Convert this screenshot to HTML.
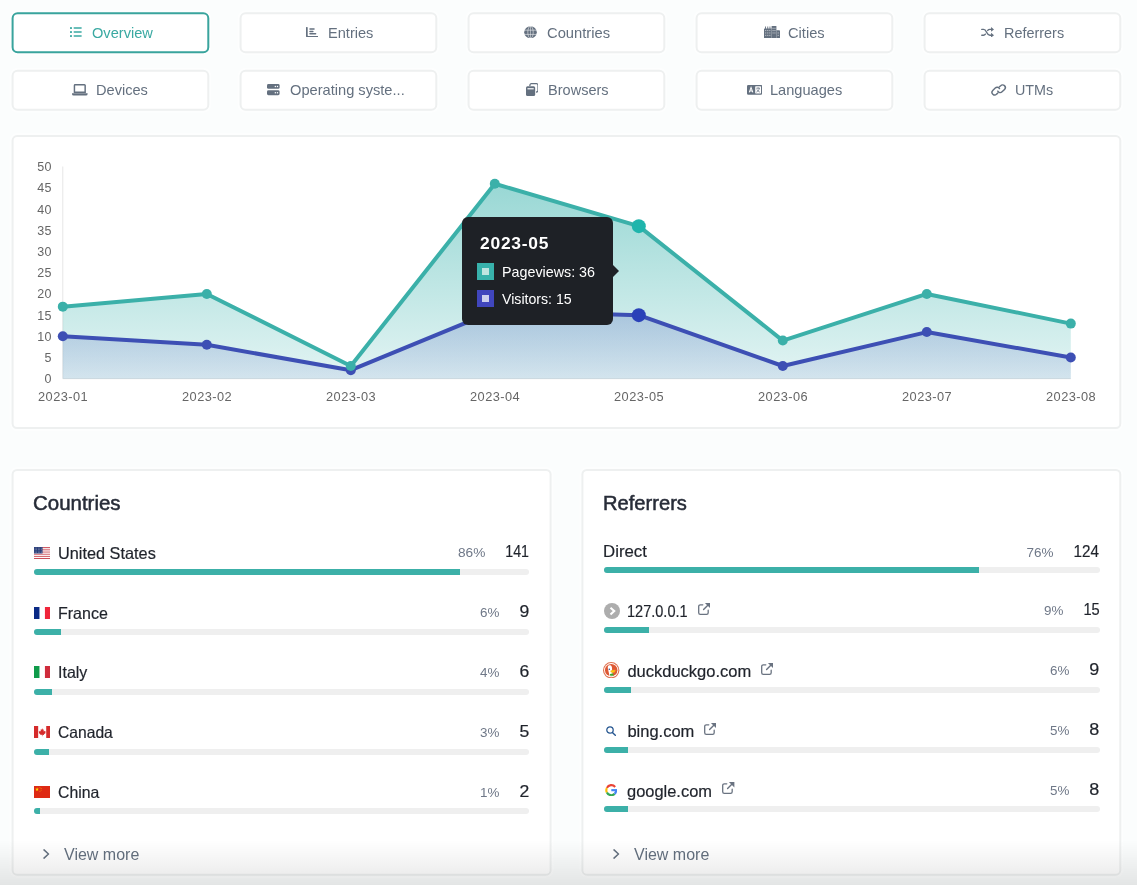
<!DOCTYPE html>
<html lang="en">
<head>
<meta charset="utf-8">
<title>Statistics</title>
<style>
*{box-sizing:border-box;margin:0;padding:0}
html,body{width:1137px;height:885px;overflow:hidden}
body{background:#fbfdfd;font-family:"Liberation Sans",sans-serif;color:#262b35;position:relative}
.abs{position:absolute}
.t{white-space:nowrap;display:block}
.ax{font-size:12.5px;fill:#666;font-family:"Liberation Sans",sans-serif;letter-spacing:.35px}
.axx{font-size:12.8px;letter-spacing:.45px}
#wrap{position:absolute;left:0;top:0;width:1137px;height:885px;will-change:transform}
#fade{position:absolute;left:0;top:840px;width:1137px;height:45px;background:linear-gradient(to bottom,rgba(0,0,0,0),rgba(0,0,0,.03) 35%,rgba(0,0,0,.095))}
</style>
</head>
<body>
<div id="wrap">
<!-- card / button outlines -->
<svg class="abs" style="left:0;top:0" width="1137" height="885" viewBox="0 0 1137 885">
<rect x="10.60" y="11.20" width="199.70" height="43.00" rx="7" fill="none" stroke="#fff" stroke-opacity=".5" stroke-width="2"/>
<rect x="12.60" y="13.20" width="195.70" height="39.00" rx="5" fill="#fff" stroke="#39a49d" stroke-width="2"/>
<rect x="10.60" y="68.85" width="199.70" height="43.00" rx="7" fill="none" stroke="#fff" stroke-opacity=".5" stroke-width="2"/>
<rect x="12.60" y="70.85" width="195.70" height="39.00" rx="5" fill="#fff" stroke="#eef0f0" stroke-width="2"/>
<rect x="238.60" y="11.20" width="199.70" height="43.00" rx="7" fill="none" stroke="#fff" stroke-opacity=".5" stroke-width="2"/>
<rect x="240.60" y="13.20" width="195.70" height="39.00" rx="5" fill="#fff" stroke="#eef0f0" stroke-width="2"/>
<rect x="238.60" y="68.85" width="199.70" height="43.00" rx="7" fill="none" stroke="#fff" stroke-opacity=".5" stroke-width="2"/>
<rect x="240.60" y="70.85" width="195.70" height="39.00" rx="5" fill="#fff" stroke="#eef0f0" stroke-width="2"/>
<rect x="466.60" y="11.20" width="199.70" height="43.00" rx="7" fill="none" stroke="#fff" stroke-opacity=".5" stroke-width="2"/>
<rect x="468.60" y="13.20" width="195.70" height="39.00" rx="5" fill="#fff" stroke="#eef0f0" stroke-width="2"/>
<rect x="466.60" y="68.85" width="199.70" height="43.00" rx="7" fill="none" stroke="#fff" stroke-opacity=".5" stroke-width="2"/>
<rect x="468.60" y="70.85" width="195.70" height="39.00" rx="5" fill="#fff" stroke="#eef0f0" stroke-width="2"/>
<rect x="694.60" y="11.20" width="199.70" height="43.00" rx="7" fill="none" stroke="#fff" stroke-opacity=".5" stroke-width="2"/>
<rect x="696.60" y="13.20" width="195.70" height="39.00" rx="5" fill="#fff" stroke="#eef0f0" stroke-width="2"/>
<rect x="694.60" y="68.85" width="199.70" height="43.00" rx="7" fill="none" stroke="#fff" stroke-opacity=".5" stroke-width="2"/>
<rect x="696.60" y="70.85" width="195.70" height="39.00" rx="5" fill="#fff" stroke="#eef0f0" stroke-width="2"/>
<rect x="922.60" y="11.20" width="199.70" height="43.00" rx="7" fill="none" stroke="#fff" stroke-opacity=".5" stroke-width="2"/>
<rect x="924.60" y="13.20" width="195.70" height="39.00" rx="5" fill="#fff" stroke="#eef0f0" stroke-width="2"/>
<rect x="922.60" y="68.85" width="199.70" height="43.00" rx="7" fill="none" stroke="#fff" stroke-opacity=".5" stroke-width="2"/>
<rect x="924.60" y="70.85" width="195.70" height="39.00" rx="5" fill="#fff" stroke="#eef0f0" stroke-width="2"/>
<rect x="10.60" y="134.10" width="1111.70" height="296.00" rx="6.5" fill="none" stroke="#fff" stroke-opacity=".5" stroke-width="2"/>
<rect x="12.60" y="136.10" width="1107.70" height="292.00" rx="4.5" fill="#fff" stroke="#eef0f0" stroke-width="2"/>
<rect x="10.60" y="467.90" width="542.00" height="408.80" rx="6.5" fill="none" stroke="#fff" stroke-opacity=".5" stroke-width="2"/>
<rect x="12.60" y="469.90" width="538.00" height="404.80" rx="4.5" fill="#fff" stroke="#eef0f0" stroke-width="2"/>
<rect x="580.40" y="467.90" width="541.90" height="408.80" rx="6.5" fill="none" stroke="#fff" stroke-opacity=".5" stroke-width="2"/>
<rect x="582.40" y="469.90" width="537.90" height="404.80" rx="4.5" fill="#fff" stroke="#eef0f0" stroke-width="2"/>
</svg>
<!-- navigation -->
<svg class="abs" preserveAspectRatio="none" style="left:70.0px;top:27.2px;width:11.8px;height:10.0px" width="12" height="10" viewBox="0 0 12 10" ><g fill="#3aa9a2"><rect x="0" y="0" width="2" height="2" rx=".4"/><rect x="0" y="4" width="2" height="2" rx=".4"/><rect x="0" y="8" width="2" height="2" rx=".4"/><rect x="3.6" y=".35" width="8.4" height="1.3" rx=".65"/><rect x="3.6" y="4.35" width="8.4" height="1.3" rx=".65"/><rect x="3.6" y="8.35" width="8.4" height="1.3" rx=".65"/></g></svg>
<span class="abs t" style="left:92.00px;top:26.00px;font-size:14.5px;line-height:14.5px;color:#3aa9a2;transform:scaleX(1.0078);transform-origin:left center">Overview</span>
<svg class="abs" preserveAspectRatio="none" style="left:305.7px;top:26.9px;width:12.3px;height:10.6px" width="12.5" height="10.5" viewBox="0 0 12.5 10.5" ><g fill="#64707f"><path d="M0 .8a.8.8 0 0 1 1.700 0V8.500a.4.4 0 0 0 .4.4H11.700a.8.8 0 0 1 0 1.600H1.700A1.700 1.700 0 0 1 0 8.800Z"/><rect x="3.3" y="1.3" width="5.6" height="1.5" rx=".7"/><rect x="3.3" y="3.6" width="4.4" height="1.5" rx=".7"/><rect x="3.3" y="5.9" width="7.2" height="1.5" rx=".7"/></g></svg>
<span class="abs t" style="left:327.60px;top:26.00px;font-size:14.5px;line-height:14.5px;color:#64707f;transform:scaleX(1.0061);transform-origin:left center">Entries</span>
<svg class="abs" preserveAspectRatio="none" style="left:523.9px;top:25.9px;width:13.0px;height:12.6px" width="13" height="13" viewBox="0 0 13 13" ><circle cx="6.5" cy="6.5" r="6.3" fill="#64707f"/><g stroke="#fff" stroke-width=".6" fill="none" opacity=".9"><ellipse cx="6.5" cy="6.5" rx="2.700" ry="6.3"/><path d="M0 4.300H13M0 8.700H13"/><path d="M6.500 0V13" stroke-width=".5"/></g></svg>
<span class="abs t" style="left:546.90px;top:26.00px;font-size:14.5px;line-height:14.5px;color:#64707f;transform:scaleX(1.0169);transform-origin:left center">Countries</span>
<svg class="abs" preserveAspectRatio="none" style="left:764.1px;top:25.9px;width:16.0px;height:12.2px" width="16" height="12.5" viewBox="0 0 16 12.5" ><g fill="#64707f"><path d="M.5 2.500H1.100V.4H2V2.500H3.300V.4H4.200V2.500H5.500V.4H6.400V2.500H7.600V12.500H.5A.5.5 0 0 1 0 12V3A.5.5 0 0 1 .5 2.500Z"/><path d="M7.600.5A.5.5 0 0 1 8.100 0H11.900A.5.5 0 0 1 12.400.5V12.500H7.600Z"/><path d="M12.400 4.400H15.500A.5.5 0 0 1 16 4.900V12A.5.5 0 0 1 15.500 12.500H12.400Z"/></g><g fill="#fff" opacity=".85"><rect x="1.300" y="4.300" width=".9" height=".9"/><rect x="3.350" y="4.300" width=".9" height=".9"/><rect x="5.400" y="4.300" width=".9" height=".9"/><rect x="1.300" y="6.700" width=".9" height=".9"/><rect x="3.350" y="6.700" width=".9" height=".9"/><rect x="5.400" y="6.700" width=".9" height=".9"/><rect x="1.300" y="9.100" width=".9" height=".9"/><rect x="3.350" y="9.100" width=".9" height=".9"/><rect x="5.400" y="9.100" width=".9" height=".9"/><rect x="8.600" y="1.900" width=".9" height=".9"/><rect x="10.500" y="1.900" width=".9" height=".9"/><rect x="8.600" y="4.300" width=".9" height=".9"/><rect x="10.500" y="4.300" width=".9" height=".9"/><rect x="8.600" y="6.700" width=".9" height=".9"/><rect x="10.500" y="6.700" width=".9" height=".9"/><rect x="13.700" y="6.700" width=".9" height=".9"/><rect x="13.700" y="9.100" width=".9" height=".9"/></g></svg>
<span class="abs t" style="left:788.00px;top:26.00px;font-size:14.5px;line-height:14.5px;color:#64707f;transform:scaleX(1.0122);transform-origin:left center">Cities</span>
<svg class="abs" preserveAspectRatio="none" style="left:981.3px;top:26.9px;width:13.2px;height:10.6px" width="13.5" height="11" viewBox="0 0 13.5 11" ><g fill="none" stroke="#64707f" stroke-width="1.45" stroke-linecap="round"><path d="M.8 2.500H2.600C4.200 2.500 4.800 3.500 5.700 5.500S7.600 8.500 9 8.500H11"/><path d="M.8 8.500H2.600C3.500 8.500 4 8.100 4.500 7.400M6.900 3.600C7.400 2.900 8 2.500 9 2.500H11"/></g><g fill="#64707f"><path d="M10.300 0 13.300 2.500 10.300 5Z"/><path d="M10.300 6 13.300 8.500 10.300 11Z"/></g></svg>
<span class="abs t" style="left:1004.20px;top:26.00px;font-size:14.5px;line-height:14.5px;color:#64707f;transform:scaleX(0.9946);transform-origin:left center">Referrers</span>
<svg class="abs" preserveAspectRatio="none" style="left:72.4px;top:84.1px;width:15.6px;height:11.6px" width="16" height="12" viewBox="0 0 16 12" ><path d="M3.200.75H12.800a.7.7 0 0 1 .7.7V8.500H2.500V1.450a.7.7 0 0 1 .7-.7Z" fill="none" stroke="#64707f" stroke-width="1.5"/><path d="M0 9.600H16V10.300A1.700 1.700 0 0 1 14.300 12H1.700A1.700 1.700 0 0 1 0 10.300Z" fill="#64707f"/></svg>
<span class="abs t" style="left:96.30px;top:83.00px;font-size:14.5px;line-height:14.5px;color:#64707f;transform:scaleX(1.0064);transform-origin:left center">Devices</span>
<svg class="abs" preserveAspectRatio="none" style="left:267.0px;top:84.4px;width:12.6px;height:11.2px" width="13" height="11.5" viewBox="0 0 13 11.5" ><g fill="#64707f"><rect x="0" y="0" width="13" height="5" rx="1.500"/><rect x="0" y="6.500" width="13" height="5" rx="1.500"/></g><g fill="#fff"><circle cx="8.600" cy="2.500" r=".75"/><circle cx="10.800" cy="2.500" r=".75"/><circle cx="8.600" cy="9" r=".75"/><circle cx="10.800" cy="9" r=".75"/></g></svg>
<span class="abs t" style="left:289.80px;top:83.00px;font-size:14.5px;line-height:14.5px;color:#64707f;transform:scaleX(1.0094);transform-origin:left center">Operating syste...</span>
<svg class="abs" preserveAspectRatio="none" style="left:525.8px;top:83.1px;width:12.7px;height:13.0px" width="13" height="13" viewBox="0 0 13 13" ><path d="M4 2.900V2.200A1.500 1.500 0 0 1 5.500.7H10.800A1.500 1.500 0 0 1 12.300 2.200V7.500A1.500 1.500 0 0 1 10.800 9H10.300" fill="none" stroke="#64707f" stroke-width="1.300"/><rect x="0" y="3.300" width="9.400" height="9.700" rx="1.500" fill="#64707f"/><rect x="1.500" y="5.100" width="6.400" height="1.300" fill="#fff" opacity=".9"/></svg>
<span class="abs t" style="left:548.10px;top:83.00px;font-size:14.5px;line-height:14.5px;color:#64707f">Browsers</span>
<svg class="abs" preserveAspectRatio="none" style="left:746.6px;top:85.0px;width:15.3px;height:9.7px" width="15.5" height="10" viewBox="0 0 15.5 10" ><rect x="0" y="0" width="15.500" height="10" rx="1.300" fill="#64707f"/><rect x="8.300" y="1.300" width="5.900" height="7.400" rx=".5" fill="#fff"/><path d="M2.300 7.600 4.100 2.500 5.900 7.600M2.900 6.100H5.300" fill="none" stroke="#fff" stroke-width="1.050"/><path d="M9.400 3.300H13.100M11.250 2.400V3.300M12.500 3.300C12.300 5.200 11 6.700 9.500 7.400M10.100 4.600C10.600 5.800 11.800 6.900 13 7.400" fill="none" stroke="#64707f" stroke-width=".8"/></svg>
<span class="abs t" style="left:770.20px;top:83.00px;font-size:14.5px;line-height:14.5px;color:#64707f;transform:scaleX(1.0062);transform-origin:left center">Languages</span>
<svg class="abs" preserveAspectRatio="none" style="left:991.4px;top:83.9px;width:15.3px;height:11.8px" width="15.5" height="12" viewBox="0 0 15.5 12" ><g fill="none" stroke="#64707f" stroke-width="1.450" stroke-linecap="round"><path d="M6.900 9.200 5.700 10.300A2.700 2.700 0 0 1 1.800 6.500L4.300 4A2.700 2.700 0 0 1 8.600 4.700"/><path d="M8.600 2.800 9.800 1.700A2.700 2.700 0 0 1 13.700 5.500L11.200 8A2.700 2.700 0 0 1 6.900 7.300"/></g></svg>
<span class="abs t" style="left:1015.20px;top:83.00px;font-size:14.5px;line-height:14.5px;color:#64707f;transform:scaleX(0.9882);transform-origin:left center">UTMs</span>
<!-- chart -->
<svg class="abs" style="left:0;top:0" width="1137" height="885" viewBox="0 0 1137 885">
<defs><linearGradient id="gp" gradientUnits="userSpaceOnUse" x1="0" y1="150" x2="0" y2="395"><stop offset="0" stop-color="#38b2ac" stop-opacity=".58"/><stop offset="1" stop-color="#38b2ac" stop-opacity=".11"/></linearGradient><linearGradient id="gv" gradientUnits="userSpaceOnUse" x1="0" y1="150" x2="0" y2="395"><stop offset="0" stop-color="#4050b8" stop-opacity=".6"/><stop offset="1" stop-color="#4050b8" stop-opacity=".06"/></linearGradient></defs>
<path d="M62.8 166.5V378.7H1070.8" fill="none" stroke="#e6e6e6" stroke-width="1"/>
<text class="ax" x="51.8" y="383.10" text-anchor="end">0</text>
<text class="ax" x="51.8" y="361.91" text-anchor="end">5</text>
<text class="ax" x="51.8" y="340.72" text-anchor="end">10</text>
<text class="ax" x="51.8" y="319.53" text-anchor="end">15</text>
<text class="ax" x="51.8" y="298.34" text-anchor="end">20</text>
<text class="ax" x="51.8" y="277.15" text-anchor="end">25</text>
<text class="ax" x="51.8" y="255.96" text-anchor="end">30</text>
<text class="ax" x="51.8" y="234.77" text-anchor="end">35</text>
<text class="ax" x="51.8" y="213.58" text-anchor="end">40</text>
<text class="ax" x="51.8" y="192.39" text-anchor="end">45</text>
<text class="ax" x="51.8" y="171.20" text-anchor="end">50</text>
<text class="ax axx" x="63.10" y="401" text-anchor="middle">2023-01</text>
<text class="ax axx" x="207.10" y="401" text-anchor="middle">2023-02</text>
<text class="ax axx" x="351.10" y="401" text-anchor="middle">2023-03</text>
<text class="ax axx" x="495.10" y="401" text-anchor="middle">2023-04</text>
<text class="ax axx" x="639.10" y="401" text-anchor="middle">2023-05</text>
<text class="ax axx" x="783.10" y="401" text-anchor="middle">2023-06</text>
<text class="ax axx" x="927.10" y="401" text-anchor="middle">2023-07</text>
<text class="ax axx" x="1071.10" y="401" text-anchor="middle">2023-08</text>
<polygon points="62.80,378.7 62.80,306.65 206.80,293.94 350.80,365.99 494.80,183.75 638.80,226.13 782.80,340.56 926.80,293.94 1070.80,323.61 1070.80,378.7" fill="url(#gp)"/>
<polygon points="62.80,378.7 62.80,336.32 206.80,344.80 350.80,370.22 494.80,310.89 638.80,315.13 782.80,365.99 926.80,332.08 1070.80,357.51 1070.80,378.7" fill="url(#gv)"/>
<polyline points="62.80,336.32 206.80,344.80 350.80,370.22 494.80,310.89 638.80,315.13 782.80,365.99 926.80,332.08 1070.80,357.51" fill="none" stroke="#3d4fb4" stroke-width="4" stroke-linejoin="round" stroke-linecap="round"/>
<circle cx="62.80" cy="336.32" r="5" fill="#3d4fb4"/>
<circle cx="206.80" cy="344.80" r="5" fill="#3d4fb4"/>
<circle cx="350.80" cy="370.22" r="5" fill="#3d4fb4"/>
<circle cx="494.80" cy="310.89" r="5" fill="#3d4fb4"/>
<circle cx="638.80" cy="315.13" r="7" fill="#2a41b8"/>
<circle cx="782.80" cy="365.99" r="5" fill="#3d4fb4"/>
<circle cx="926.80" cy="332.08" r="5" fill="#3d4fb4"/>
<circle cx="1070.80" cy="357.51" r="5" fill="#3d4fb4"/>
<polyline points="62.80,306.65 206.80,293.94 350.80,365.99 494.80,183.75 638.80,226.13 782.80,340.56 926.80,293.94 1070.80,323.61" fill="none" stroke="#3bb0a9" stroke-width="4" stroke-linejoin="round" stroke-linecap="round"/>
<circle cx="62.80" cy="306.65" r="5" fill="#3bb0a9"/>
<circle cx="206.80" cy="293.94" r="5" fill="#3bb0a9"/>
<circle cx="350.80" cy="365.99" r="5" fill="#3bb0a9"/>
<circle cx="494.80" cy="183.75" r="5" fill="#3bb0a9"/>
<circle cx="638.80" cy="226.13" r="7" fill="#1fb5ac"/>
<circle cx="782.80" cy="340.56" r="5" fill="#3bb0a9"/>
<circle cx="926.80" cy="293.94" r="5" fill="#3bb0a9"/>
<circle cx="1070.80" cy="323.61" r="5" fill="#3bb0a9"/>
</svg>
<div class="abs" id="tt" style="left:462px;top:216.5px;width:151px;height:108px;background:#1e2126;border-radius:6px"></div><div class="abs" style="left:613px;top:264.500px;width:0;height:0;border-left:6px solid #1e2126;border-top:6px solid transparent;border-bottom:6px solid transparent"></div><span class="abs t" style="left:479.70px;top:236.00px;font-size:16px;line-height:16px;color:#fff;transform:scaleX(1.0878);transform-origin:left center;font-weight:bold;letter-spacing:0.7px">2023-05</span><div class="abs" style="left:477px;top:263px;width:17px;height:17px;background:#38b2ac"></div><div class="abs" style="left:482px;top:268px;width:7px;height:7px;background:#bfe5e1"></div><div class="abs" style="left:477px;top:290px;width:17px;height:17px;background:#4046bd"></div><div class="abs" style="left:482px;top:295px;width:7px;height:7px;background:#cdd0ee"></div><span class="abs t" style="left:501.90px;top:265.00px;font-size:14.5px;line-height:14.5px;color:#fff;transform:scaleX(0.9862);transform-origin:left center">Pageviews: 36</span><span class="abs t" style="left:501.90px;top:292.00px;font-size:14.5px;line-height:14.5px;color:#fff;transform:scaleX(0.9754);transform-origin:left center">Visitors: 15</span>
<!-- countries -->
<span class="abs t" style="left:33.00px;top:493.00px;font-size:20px;line-height:20px;color:#272c38;transform:scaleX(1.0235);transform-origin:left center;-webkit-text-stroke:0.5px #272c38">Countries</span>
<svg class="abs" preserveAspectRatio="none" style="left:33.6px;top:546.9px;width:16.4px;height:12px" width="16.5" height="12" viewBox="0 0 16.5 12" ><rect x="0" y="0.000" width="16.5" height="0.923" fill="#c8414b"/><rect x="0" y="0.923" width="16.5" height="0.923" fill="#fff"/><rect x="0" y="1.846" width="16.5" height="0.923" fill="#c8414b"/><rect x="0" y="2.769" width="16.5" height="0.923" fill="#fff"/><rect x="0" y="3.692" width="16.5" height="0.923" fill="#c8414b"/><rect x="0" y="4.615" width="16.5" height="0.923" fill="#fff"/><rect x="0" y="5.538" width="16.5" height="0.923" fill="#c8414b"/><rect x="0" y="6.462" width="16.5" height="0.923" fill="#fff"/><rect x="0" y="7.385" width="16.5" height="0.923" fill="#c8414b"/><rect x="0" y="8.308" width="16.5" height="0.923" fill="#fff"/><rect x="0" y="9.231" width="16.5" height="0.923" fill="#c8414b"/><rect x="0" y="10.154" width="16.5" height="0.923" fill="#fff"/><rect x="0" y="11.077" width="16.5" height="0.923" fill="#c8414b"/><rect x="0" y="0" width="8.600" height="6.460" fill="#2b3f7a"/><circle cx="1.10" cy="1.00" r=".32" fill="#fff"/><circle cx="2.70" cy="1.00" r=".32" fill="#fff"/><circle cx="4.30" cy="1.00" r=".32" fill="#fff"/><circle cx="5.90" cy="1.00" r=".32" fill="#fff"/><circle cx="7.50" cy="1.00" r=".32" fill="#fff"/><circle cx="1.10" cy="2.50" r=".32" fill="#fff"/><circle cx="2.70" cy="2.50" r=".32" fill="#fff"/><circle cx="4.30" cy="2.50" r=".32" fill="#fff"/><circle cx="5.90" cy="2.50" r=".32" fill="#fff"/><circle cx="7.50" cy="2.50" r=".32" fill="#fff"/><circle cx="1.10" cy="4.00" r=".32" fill="#fff"/><circle cx="2.70" cy="4.00" r=".32" fill="#fff"/><circle cx="4.30" cy="4.00" r=".32" fill="#fff"/><circle cx="5.90" cy="4.00" r=".32" fill="#fff"/><circle cx="7.50" cy="4.00" r=".32" fill="#fff"/><circle cx="1.10" cy="5.50" r=".32" fill="#fff"/><circle cx="2.70" cy="5.50" r=".32" fill="#fff"/><circle cx="4.30" cy="5.50" r=".32" fill="#fff"/><circle cx="5.90" cy="5.50" r=".32" fill="#fff"/><circle cx="7.50" cy="5.50" r=".32" fill="#fff"/></svg>
<span class="abs t" style="left:57.90px;top:545.00px;font-size:16.5px;line-height:16.5px;color:#1f232b;transform:scaleX(0.9874);transform-origin:left center;-webkit-text-stroke:0.2px #1f232b">United States</span>
<span class="abs t" style="left:501.27px;top:544.00px;font-size:16.8px;line-height:16.8px;color:#1f232b;transform:scaleX(0.8456);transform-origin:right center;-webkit-text-stroke:0.2px #1f232b">141</span>
<span class="abs t" style="left:459.88px;top:547.00px;font-size:12.7px;line-height:12.7px;color:#6f7888;transform:scaleX(1.0780);transform-origin:right center">86%</span>
<div class="abs" style="left:33.5px;top:569.3px;width:495.7px;height:6px;border-radius:3px;background:#efefef;overflow:hidden"><div style="width:426.18px;height:6px;background:#3cb0a8"></div></div>
<svg class="abs" preserveAspectRatio="none" style="left:33.6px;top:606.65px;width:16.4px;height:12px" width="16.5" height="12" viewBox="0 0 16.5 12" ><rect width="16.5" height="12" fill="#fff"/><rect width="5.500" height="12" fill="#0a2a85"/><rect x="11" width="5.500" height="12" fill="#f0253a"/></svg>
<span class="abs t" style="left:57.90px;top:605.00px;font-size:16.5px;line-height:16.5px;color:#1f232b;transform:scaleX(0.9698);transform-origin:left center;-webkit-text-stroke:0.2px #1f232b">France</span>
<span class="abs t" style="left:519.96px;top:604.00px;font-size:16.8px;line-height:16.8px;color:#1f232b;transform:scaleX(1.0490);transform-origin:right center;-webkit-text-stroke:0.2px #1f232b">9</span>
<span class="abs t" style="left:480.84px;top:607.00px;font-size:12.7px;line-height:12.7px;color:#6f7888;transform:scaleX(1.0569);transform-origin:right center">6%</span>
<div class="abs" style="left:33.5px;top:629.05px;width:495.7px;height:6px;border-radius:3px;background:#efefef;overflow:hidden"><div style="width:27.20px;height:6px;background:#3cb0a8"></div></div>
<svg class="abs" preserveAspectRatio="none" style="left:33.6px;top:666.4px;width:16.4px;height:12px" width="16.5" height="12" viewBox="0 0 16.5 12" ><rect width="16.5" height="12" fill="#fff"/><rect width="5.500" height="12" fill="#0f9b4a"/><rect x="11" width="5.500" height="12" fill="#cf2c3c"/></svg>
<span class="abs t" style="left:57.90px;top:664.00px;font-size:16.5px;line-height:16.5px;color:#1f232b;transform:scaleX(0.9683);transform-origin:left center;-webkit-text-stroke:0.2px #1f232b">Italy</span>
<span class="abs t" style="left:519.96px;top:664.00px;font-size:16.8px;line-height:16.8px;color:#1f232b;transform:scaleX(1.0490);transform-origin:right center;-webkit-text-stroke:0.2px #1f232b">6</span>
<span class="abs t" style="left:480.84px;top:667.00px;font-size:12.7px;line-height:12.7px;color:#6f7888;transform:scaleX(1.0569);transform-origin:right center">4%</span>
<div class="abs" style="left:33.5px;top:688.8px;width:495.7px;height:6px;border-radius:3px;background:#efefef;overflow:hidden"><div style="width:18.14px;height:6px;background:#3cb0a8"></div></div>
<svg class="abs" preserveAspectRatio="none" style="left:33.6px;top:726.15px;width:16.4px;height:12px" width="16.5" height="12" viewBox="0 0 16.5 12" ><rect width="16.5" height="12" fill="#fff"/><rect width="4.200" height="12" fill="#d52b2b"/><rect x="12.300" width="4.200" height="12" fill="#d52b2b"/><path d="M8.250 2.300 9 3.800 9.900 3.400 9.600 5.400 10.600 4.700 10.900 5.400 11.800 5.300 11.400 6.600 11.800 6.900 10 8.300 10.200 9 8.500 8.800V10.300H8V8.800L6.300 9 6.500 8.300 4.700 6.900 5.100 6.600 4.700 5.300 5.600 5.400 5.900 4.700 6.900 5.400 6.600 3.400 7.500 3.800Z" fill="#d52b2b"/></svg>
<span class="abs t" style="left:57.90px;top:724.00px;font-size:16.5px;line-height:16.5px;color:#1f232b;transform:scaleX(0.9482);transform-origin:left center;-webkit-text-stroke:0.2px #1f232b">Canada</span>
<span class="abs t" style="left:519.96px;top:724.00px;font-size:16.8px;line-height:16.8px;color:#1f232b;transform:scaleX(1.0490);transform-origin:right center;-webkit-text-stroke:0.2px #1f232b">5</span>
<span class="abs t" style="left:480.84px;top:727.00px;font-size:12.7px;line-height:12.7px;color:#6f7888;transform:scaleX(1.0569);transform-origin:right center">3%</span>
<div class="abs" style="left:33.5px;top:748.55px;width:495.7px;height:6px;border-radius:3px;background:#efefef;overflow:hidden"><div style="width:15.11px;height:6px;background:#3cb0a8"></div></div>
<svg class="abs" preserveAspectRatio="none" style="left:33.6px;top:785.9px;width:16.4px;height:12px" width="16.5" height="12" viewBox="0 0 16.5 12" ><rect width="16.5" height="12" fill="#de2a14"/><path d="M3.100 1.300 3.600 2.700H5.100L3.900 3.600 4.300 5 3.100 4.150 1.900 5 2.300 3.600 1.100 2.700H2.600Z" fill="#ffde00"/><circle cx="6" cy="1.300" r=".42" fill="#ffde00"/><circle cx="7.100" cy="2.500" r=".42" fill="#ffde00"/><circle cx="7.100" cy="4.100" r=".42" fill="#ffde00"/><circle cx="6" cy="5.300" r=".42" fill="#ffde00"/></svg>
<span class="abs t" style="left:57.90px;top:784.00px;font-size:16.5px;line-height:16.5px;color:#1f232b;transform:scaleX(0.9580);transform-origin:left center;-webkit-text-stroke:0.2px #1f232b">China</span>
<span class="abs t" style="left:519.96px;top:784.00px;font-size:16.8px;line-height:16.8px;color:#1f232b;transform:scaleX(1.0490);transform-origin:right center;-webkit-text-stroke:0.2px #1f232b">2</span>
<span class="abs t" style="left:480.84px;top:787.00px;font-size:12.7px;line-height:12.7px;color:#6f7888;transform:scaleX(1.0569);transform-origin:right center">1%</span>
<div class="abs" style="left:33.5px;top:808.3px;width:495.7px;height:6px;border-radius:3px;background:#efefef;overflow:hidden"><div style="width:6.05px;height:6px;background:#3cb0a8"></div></div>
<svg class="abs" style="left:43.4px;top:849.1px" width="6.7" height="10" viewBox="0 0 6.7 10"><path d="M1 .9 5.500 5 1 9.100" fill="none" stroke="#64707f" stroke-width="1.500" stroke-linecap="round" stroke-linejoin="round"/></svg>
<span class="abs t" style="left:63.70px;top:846.00px;font-size:16.5px;line-height:16.5px;color:#64707f;transform:scaleX(0.9699);transform-origin:left center">View more</span>
<!-- referrers -->
<span class="abs t" style="left:602.60px;top:493.00px;font-size:20px;line-height:20px;color:#272c38;transform:scaleX(1.0067);transform-origin:left center;-webkit-text-stroke:0.5px #272c38">Referrers</span>
<span class="abs t" style="left:603.00px;top:543.00px;font-size:16.5px;line-height:16.5px;color:#1f232b;transform:scaleX(1.0189);transform-origin:left center;-webkit-text-stroke:0.2px #1f232b">Direct</span>
<span class="abs t" style="left:1071.17px;top:544.00px;font-size:16.8px;line-height:16.8px;color:#1f232b;transform:scaleX(0.9063);transform-origin:right center;-webkit-text-stroke:0.2px #1f232b">124</span>
<span class="abs t" style="left:1027.78px;top:547.00px;font-size:12.7px;line-height:12.7px;color:#6f7888;transform:scaleX(1.0622);transform-origin:right center">76%</span>
<div class="abs" style="left:603.9px;top:567.3px;width:495.7px;height:6px;border-radius:3px;background:#efefef;overflow:hidden"><div style="width:374.80px;height:6px;background:#3cb0a8"></div></div>
<svg class="abs" preserveAspectRatio="none" style="left:603.6px;top:602.9px;width:16px;height:16px" width="16" height="16" viewBox="0 0 16 16" ><circle cx="8" cy="8" r="8" fill="#adadad"/><path d="M6.500 4.800 10.200 8 6.500 11.400" fill="none" stroke="#fff" stroke-width="2.100" stroke-linejoin="miter"/></svg>
<span class="abs t" style="left:627.40px;top:603.00px;font-size:16.5px;line-height:16.5px;color:#1f232b;transform:scaleX(0.8807);transform-origin:left center;-webkit-text-stroke:0.2px #1f232b">127.0.0.1</span>
<svg class="abs" preserveAspectRatio="none" style="left:697.8px;top:603.0px;width:12.4px;height:12px" width="12.4" height="12" viewBox="0 0 12.4 12" ><path d="M4.800 1.800H2.300A1.600 1.600 0 0 0 .7 3.400V9.700A1.600 1.600 0 0 0 2.300 11.300H8.600A1.600 1.600 0 0 0 10.200 9.700V7.200" fill="none" stroke="#6a7381" stroke-width="1.300" stroke-linecap="round"/><path d="M5.600 6.400 10.800 1.200" stroke="#6a7381" stroke-width="1.400" stroke-linecap="round"/><path d="M6.900 0H12.400V5.500Z" fill="#6a7381"/></svg>
<span class="abs t" style="left:1080.82px;top:602.00px;font-size:16.8px;line-height:16.8px;color:#1f232b;transform:scaleX(0.8724);transform-origin:right center;-webkit-text-stroke:0.2px #1f232b">15</span>
<span class="abs t" style="left:1044.64px;top:605.00px;font-size:12.7px;line-height:12.7px;color:#6f7888;transform:scaleX(1.0569);transform-origin:right center">9%</span>
<div class="abs" style="left:603.9px;top:627.1px;width:495.7px;height:6px;border-radius:3px;background:#efefef;overflow:hidden"><div style="width:45.34px;height:6px;background:#3cb0a8"></div></div>
<svg class="abs" preserveAspectRatio="none" style="left:603.4px;top:662.05px;width:16.4px;height:16.4px" width="16.4" height="16.4" viewBox="0 0 16.4 16.4" ><circle cx="8.200" cy="8.200" r="8.200" fill="#e0714f"/><circle cx="8.200" cy="8.200" r="7.100" fill="#fff"/><circle cx="8.200" cy="8.200" r="6.200" fill="#de5833"/><path d="M5.300 3.800C6.500 3 8.100 3.200 8.700 4.600 9.200 5.800 9 7 9.100 8.200 9.200 10 9.600 12 10 14.100 8.800 14.600 7.400 14.500 6.400 14.100 6.100 11.500 5.300 8.500 4.900 6.500 4.700 5.400 4.800 4.400 5.300 3.800Z" fill="#fff"/><circle cx="6.300" cy="7.200" r=".75" fill="#2d4f8e"/><path d="M7.800 8.800C9 8.400 10.600 8 12.300 8.100 12.600 8.700 12 9 11.200 9.100 12 9.300 12.300 9.800 11.800 10.100 10.500 10.600 8.900 10.500 7.900 10.100Z" fill="#fdd20a" stroke="#f5a323" stroke-width=".5"/><path d="M6.900 12.200C7.800 11.500 9.200 11.300 10.400 11.700L10.500 13.400C9.400 13.900 8 13.900 7 13.400Z" fill="#3ca82b"/></svg>
<span class="abs t" style="left:627.40px;top:663.00px;font-size:16.5px;line-height:16.5px;color:#1f232b;-webkit-text-stroke:0.2px #1f232b">duckduckgo.com</span>
<svg class="abs" preserveAspectRatio="none" style="left:761.0999999999999px;top:662.75px;width:12.4px;height:12px" width="12.4" height="12" viewBox="0 0 12.4 12" ><path d="M4.800 1.800H2.300A1.600 1.600 0 0 0 .7 3.400V9.700A1.600 1.600 0 0 0 2.300 11.300H8.600A1.600 1.600 0 0 0 10.200 9.700V7.200" fill="none" stroke="#6a7381" stroke-width="1.300" stroke-linecap="round"/><path d="M5.600 6.400 10.800 1.200" stroke="#6a7381" stroke-width="1.400" stroke-linecap="round"/><path d="M6.900 0H12.400V5.500Z" fill="#6a7381"/></svg>
<span class="abs t" style="left:1090.16px;top:662.00px;font-size:16.8px;line-height:16.8px;color:#1f232b;transform:scaleX(1.0704);transform-origin:right center;-webkit-text-stroke:0.2px #1f232b">9</span>
<span class="abs t" style="left:1050.94px;top:665.00px;font-size:12.7px;line-height:12.7px;color:#6f7888;transform:scaleX(1.0569);transform-origin:right center">6%</span>
<div class="abs" style="left:603.9px;top:686.85px;width:495.7px;height:6px;border-radius:3px;background:#efefef;overflow:hidden"><div style="width:27.20px;height:6px;background:#3cb0a8"></div></div>
<svg class="abs" preserveAspectRatio="none" style="left:606.4px;top:725.5px;width:10px;height:10px" width="10" height="10" viewBox="0 0 10 10" ><circle cx="4" cy="4" r="3.200" fill="none" stroke="#23548f" stroke-width="1.250"/><path d="M6.400 6.400 9.300 9.300" stroke="#23548f" stroke-width="1.400" stroke-linecap="round"/></svg>
<span class="abs t" style="left:627.40px;top:723.00px;font-size:16.5px;line-height:16.5px;color:#1f232b;-webkit-text-stroke:0.2px #1f232b">bing.com</span>
<svg class="abs" preserveAspectRatio="none" style="left:704.0999999999999px;top:722.5px;width:12.4px;height:12px" width="12.4" height="12" viewBox="0 0 12.4 12" ><path d="M4.800 1.800H2.300A1.600 1.600 0 0 0 .7 3.400V9.700A1.600 1.600 0 0 0 2.300 11.300H8.600A1.600 1.600 0 0 0 10.200 9.700V7.200" fill="none" stroke="#6a7381" stroke-width="1.300" stroke-linecap="round"/><path d="M5.600 6.400 10.800 1.200" stroke="#6a7381" stroke-width="1.400" stroke-linecap="round"/><path d="M6.900 0H12.400V5.500Z" fill="#6a7381"/></svg>
<span class="abs t" style="left:1090.16px;top:722.00px;font-size:16.8px;line-height:16.8px;color:#1f232b;transform:scaleX(1.0704);transform-origin:right center;-webkit-text-stroke:0.2px #1f232b">8</span>
<span class="abs t" style="left:1050.94px;top:725.00px;font-size:12.7px;line-height:12.7px;color:#6f7888;transform:scaleX(1.0569);transform-origin:right center">5%</span>
<div class="abs" style="left:603.9px;top:746.6px;width:495.7px;height:6px;border-radius:3px;background:#efefef;overflow:hidden"><div style="width:24.18px;height:6px;background:#3cb0a8"></div></div>
<svg class="abs" preserveAspectRatio="none" style="left:604.8px;top:783.65px;width:12.6px;height:12.4px" width="12.6" height="12.4" viewBox="0 0 12.6 12.4" ><g fill="none" stroke-width="2.150"><path d="M10.140 3.020A4.900 4.900 0 0 0 1.900 3.900" stroke="#ea4335"/><path d="M1.900 3.900A4.900 4.900 0 0 0 1.900 8.500" stroke="#fbbc05"/><path d="M1.900 8.500A4.900 4.900 0 0 0 9.600 9.900" stroke="#34a853"/><path d="M9.600 9.900A4.900 4.900 0 0 0 11.150 6.200" stroke="#4285f4"/></g><rect x="6.300" y="5.100" width="5.900" height="2.150" fill="#4285f4"/></svg>
<span class="abs t" style="left:627.40px;top:783.00px;font-size:16.5px;line-height:16.5px;color:#1f232b;transform:scaleX(0.9965);transform-origin:left center;-webkit-text-stroke:0.2px #1f232b">google.com</span>
<svg class="abs" preserveAspectRatio="none" style="left:722.1999999999999px;top:782.25px;width:12.4px;height:12px" width="12.4" height="12" viewBox="0 0 12.4 12" ><path d="M4.800 1.800H2.300A1.600 1.600 0 0 0 .7 3.400V9.700A1.600 1.600 0 0 0 2.300 11.300H8.600A1.600 1.600 0 0 0 10.200 9.700V7.200" fill="none" stroke="#6a7381" stroke-width="1.300" stroke-linecap="round"/><path d="M5.600 6.400 10.800 1.200" stroke="#6a7381" stroke-width="1.400" stroke-linecap="round"/><path d="M6.900 0H12.400V5.500Z" fill="#6a7381"/></svg>
<span class="abs t" style="left:1090.16px;top:782.00px;font-size:16.8px;line-height:16.8px;color:#1f232b;transform:scaleX(1.0704);transform-origin:right center;-webkit-text-stroke:0.2px #1f232b">8</span>
<span class="abs t" style="left:1050.94px;top:785.00px;font-size:12.7px;line-height:12.7px;color:#6f7888;transform:scaleX(1.0569);transform-origin:right center">5%</span>
<div class="abs" style="left:603.9px;top:806.35px;width:495.7px;height:6px;border-radius:3px;background:#efefef;overflow:hidden"><div style="width:24.18px;height:6px;background:#3cb0a8"></div></div>
<svg class="abs" style="left:613.4px;top:849.1px" width="6.7" height="10" viewBox="0 0 6.7 10"><path d="M1 .9 5.500 5 1 9.100" fill="none" stroke="#64707f" stroke-width="1.500" stroke-linecap="round" stroke-linejoin="round"/></svg>
<span class="abs t" style="left:633.70px;top:846.00px;font-size:16.5px;line-height:16.5px;color:#64707f;transform:scaleX(0.9699);transform-origin:left center">View more</span>
<div id="fade"></div>
</div>
</body>
</html>
